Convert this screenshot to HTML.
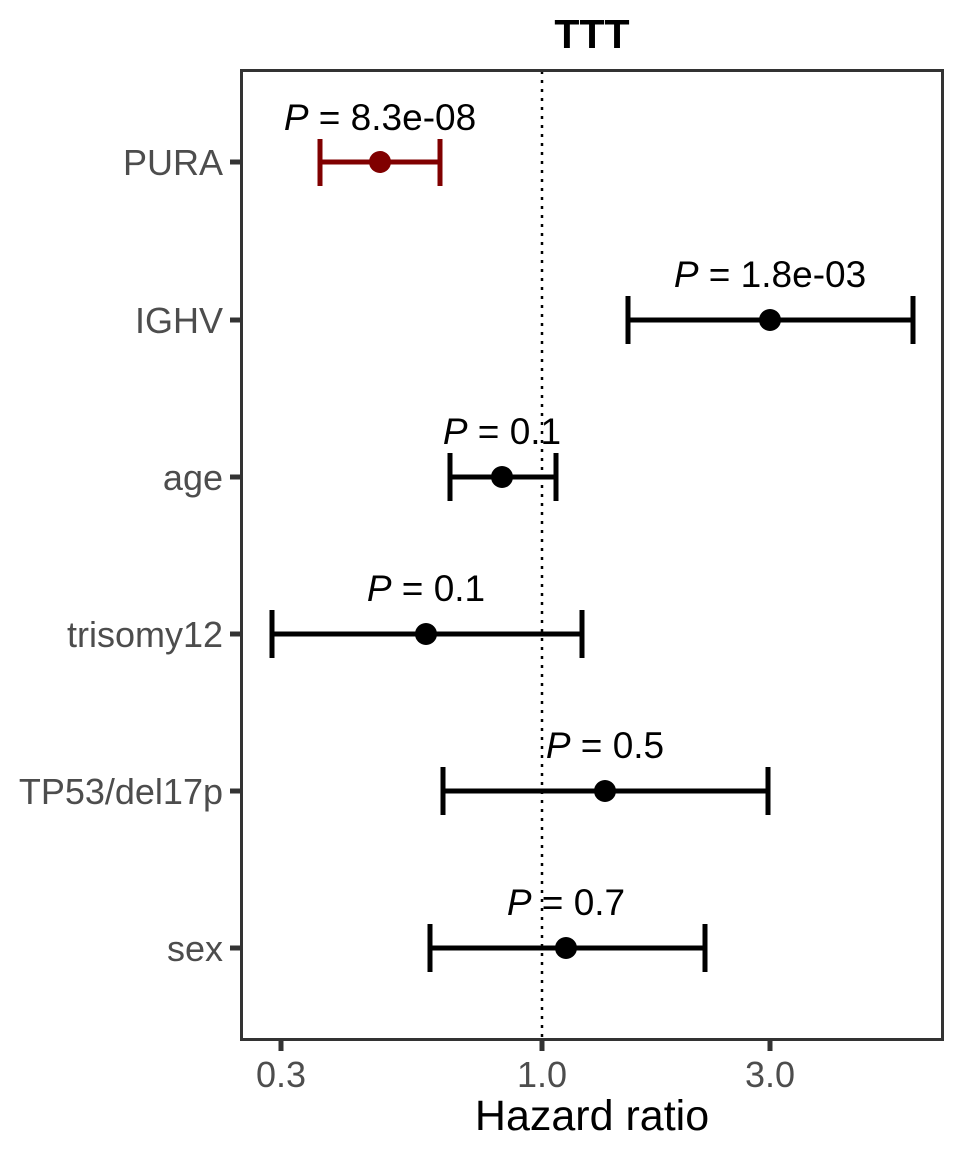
<!DOCTYPE html>
<html><head><meta charset="utf-8"><style>
html,body{margin:0;padding:0;background:#fff;}
svg{display:block;}
text{font-family:"Liberation Sans",sans-serif;}
</style></head><body>
<svg width="960" height="1152" viewBox="0 0 960 1152" xmlns="http://www.w3.org/2000/svg">
<rect x="0" y="0" width="960" height="1152" fill="#fff"/>
<text x="592" y="48" font-size="41" font-weight="bold" text-anchor="middle" fill="#000">TTT</text>
<line x1="542" y1="71" x2="542" y2="1039" stroke="#000" stroke-width="2.5" stroke-dasharray="3,6"/>
<g stroke-width="5" fill="none">
<g stroke="#800000"><line x1="320" y1="162" x2="440" y2="162"/><line x1="320" y1="139" x2="320" y2="186"/><line x1="440" y1="139" x2="440" y2="186"/></g>
<g stroke="#000">
<line x1="628" y1="320" x2="913" y2="320"/><line x1="628" y1="296" x2="628" y2="344"/><line x1="913" y1="296" x2="913" y2="344"/>
<line x1="450" y1="477" x2="556" y2="477"/><line x1="450" y1="453" x2="450" y2="501"/><line x1="556" y1="453" x2="556" y2="501"/>
<line x1="272" y1="634" x2="582" y2="634"/><line x1="272" y1="610" x2="272" y2="658"/><line x1="582" y1="610" x2="582" y2="658"/>
<line x1="443" y1="791" x2="768" y2="791"/><line x1="443" y1="767" x2="443" y2="815"/><line x1="768" y1="767" x2="768" y2="815"/>
<line x1="430" y1="948" x2="705" y2="948"/><line x1="430" y1="924" x2="430" y2="972"/><line x1="705" y1="924" x2="705" y2="972"/>
</g></g>
<circle cx="380" cy="162" r="11" fill="#800000"/>
<circle cx="770" cy="320" r="11" fill="#000"/>
<circle cx="502" cy="477" r="11" fill="#000"/>
<circle cx="426" cy="634" r="11" fill="#000"/>
<circle cx="605" cy="791" r="11" fill="#000"/>
<circle cx="566" cy="948" r="11" fill="#000"/>
<g font-size="37" text-anchor="middle" fill="#000">
<text x="380" y="130"><tspan font-style="italic">P</tspan> = 8.3e-08</text>
<text x="770" y="287"><tspan font-style="italic">P</tspan> = 1.8e-03</text>
<text x="502" y="444"><tspan font-style="italic">P</tspan> = 0.1</text>
<text x="426" y="601"><tspan font-style="italic">P</tspan> = 0.1</text>
<text x="605" y="758"><tspan font-style="italic">P</tspan> = 0.5</text>
<text x="566" y="915"><tspan font-style="italic">P</tspan> = 0.7</text>
</g>
<rect x="241.5" y="70.5" width="701" height="969" fill="none" stroke="#333" stroke-width="3"/>
<g stroke="#333" stroke-width="5">
<line x1="230" y1="162" x2="241" y2="162"/><line x1="230" y1="320" x2="241" y2="320"/><line x1="230" y1="477" x2="241" y2="477"/>
<line x1="230" y1="634" x2="241" y2="634"/><line x1="230" y1="791" x2="241" y2="791"/><line x1="230" y1="948" x2="241" y2="948"/>
<line x1="281" y1="1040" x2="281" y2="1051"/><line x1="542" y1="1040" x2="542" y2="1051"/><line x1="770" y1="1040" x2="770" y2="1051"/>
</g>
<g font-size="36" text-anchor="end" fill="#4d4d4d">
<text x="223" y="175">PURA</text>
<text x="223" y="333">IGHV</text>
<text x="223" y="490">age</text>
<text x="223" y="647">trisomy12</text>
<text x="223" y="804">TP53/del17p</text>
<text x="223" y="961">sex</text>
</g>
<g font-size="36" text-anchor="middle" fill="#4d4d4d">
<text x="281" y="1087">0.3</text><text x="542" y="1087">1.0</text><text x="770" y="1087">3.0</text>
</g>
<text x="592" y="1130" font-size="43" text-anchor="middle" fill="#000">Hazard ratio</text>
</svg>
</body></html>
